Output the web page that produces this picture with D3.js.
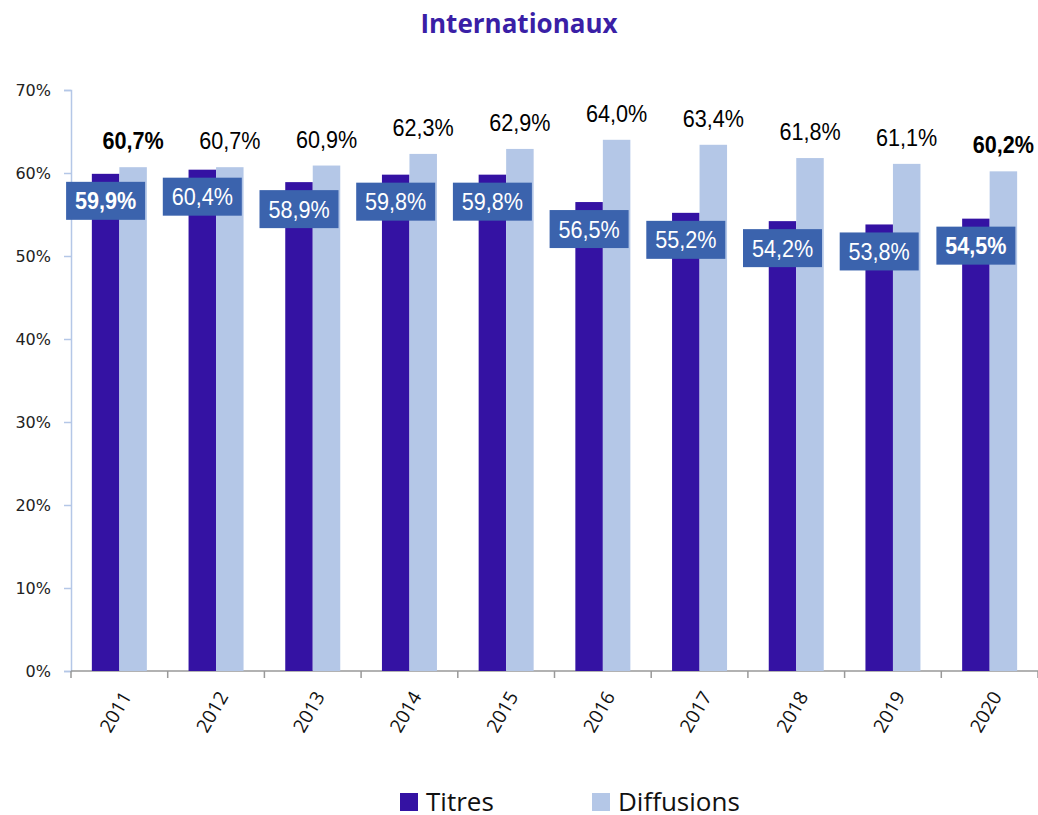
<!DOCTYPE html>
<html>
<head>
<meta charset="utf-8">
<script src="https://cdn.jsdelivr.net/npm/d3@7"></script>
<style>
  body { margin: 0; background: #fff; }
</style>
</head>
<body>
<script>
// data
const years = ['2011', '2012', '2013', '2014', '2015', '2016', '2017', '2018', '2019', '2020'];
const titres = [59.9, 60.4, 58.9, 59.8, 59.8, 56.5, 55.2, 54.2, 53.8, 54.5];
const diffusions = [60.7, 60.7, 60.9, 62.3, 62.9, 64.0, 63.4, 61.8, 61.1, 60.2];
const yTicks = [0, 10, 20, 30, 40, 50, 60, 70];
const boldYears = ['2011', '2020'];

const width = 1038, height = 815;
const marginLeft = 71, marginRight = 0, marginTop = 90, marginBottom = 144;
const innerWidth = width - marginLeft - marginRight;
const innerHeight = height - marginTop - marginBottom;

const colTitres = '#3412A3';
const colDiff = '#B4C7E7';
const colBox = '#3B63AD';
const narrow = '"Liberation Sans Narrow", "Arial Narrow", "Liberation Sans", sans-serif';
const squeeze = 0.9; // labels in the reference use a condensed face

const fmt = v => v.toFixed(1).replace('.', ',') + '%';

const svg = d3.select('body')
  .append('svg')
  .attr('width', width)
  .attr('height', height);

// title
svg.append('text')
  .attr('x', 519)
  .attr('y', 33)
  .attr('text-anchor', 'middle')
  .attr('font-family', '"Open Sans", sans-serif')
  .attr('font-weight', 'bold')
  .attr('font-size', 26)
  .attr('fill', '#3A1FA6')
  .text('Internationaux');

const g = svg.append('g')
  .attr('transform', `translate(${marginLeft},${marginTop})`);

const xScale = d3.scaleBand()
  .domain(years)
  .range([0, innerWidth]);

const yScale = d3.scaleLinear()
  .domain([0, 70])
  .range([innerHeight, 0]);

const barW = 27.5;

// y axis
const yAxis = g.append('g')
  .call(d3.axisLeft(yScale).tickValues(yTicks).tickSize(7).tickFormat(d => d + '%'));
yAxis.select('.domain').attr('stroke', '#B4C7E7').attr('stroke-width', 1.5);
yAxis.selectAll('.tick line').attr('stroke', '#B4C7E7').attr('stroke-width', 1.5);
yAxis.selectAll('.tick text')
  .attr('x', -20)
  .attr('font-family', '"DejaVu Sans", sans-serif')
  .attr('font-size', 16)
  .attr('fill', '#222');

// x axis (ticks at band boundaries)
const xAxis = g.append('g')
  .attr('transform', `translate(0,${innerHeight})`);
xAxis.append('line')
  .attr('x1', 0).attr('x2', innerWidth)
  .attr('stroke', '#999').attr('stroke-width', 1.5);
xAxis.selectAll('line.tk')
  .data(years.concat(['end']))
  .join('line')
  .attr('class', 'tk')
  .attr('x1', (d, i) => i * xScale.step())
  .attr('x2', (d, i) => i * xScale.step())
  .attr('y1', 0).attr('y2', 7)
  .attr('stroke', '#999').attr('stroke-width', 1.5);
xAxis.selectAll('text')
  .data(years)
  .join('text')
  .attr('transform', d => `translate(${xScale(d) + xScale.bandwidth() / 2 + 7},${22}) rotate(-60)`)
  .attr('text-anchor', 'end')
  .attr('dy', '0.35em')
  .attr('font-family', '"Open Sans", sans-serif')
  .attr('font-size', 19)
  .attr('fill', '#111')
  .text(d => d);

// bars
const groups = g.selectAll('g.year')
  .data(years)
  .join('g')
  .attr('class', 'year')
  .attr('transform', d => `translate(${xScale(d) + xScale.bandwidth() / 2},0)`);

groups.append('rect')
  .attr('x', -barW)
  .attr('width', barW)
  .attr('y', (d, i) => yScale(titres[i]))
  .attr('height', (d, i) => innerHeight - yScale(titres[i]))
  .attr('fill', colTitres);

groups.append('rect')
  .attr('x', 0)
  .attr('width', barW)
  .attr('y', (d, i) => yScale(diffusions[i]))
  .attr('height', (d, i) => innerHeight - yScale(diffusions[i]))
  .attr('fill', colDiff);

// diffusions labels above bars
groups.append('text')
  .attr('transform', (d, i) => `translate(${barW / 2},${yScale(diffusions[i]) - 18}) scale(${squeeze},1)`)
  .attr('text-anchor', 'middle')
  .attr('font-family', narrow)
  .attr('font-size', 24)
  .attr('font-weight', d => boldYears.includes(d) ? 'bold' : 'normal')
  .attr('fill', '#000')
  .text((d, i) => fmt(diffusions[i]));

// titres labels in boxes
const boxW = 79, boxH = 38;
groups.append('rect')
  .attr('x', -barW / 2 - boxW / 2)
  .attr('y', (d, i) => yScale(titres[i]) + 27 - boxH / 2)
  .attr('width', boxW)
  .attr('height', boxH)
  .attr('fill', colBox);

groups.append('text')
  .attr('transform', (d, i) => `translate(${-barW / 2},${yScale(titres[i]) + 27}) scale(${squeeze},1)`)
  .attr('dy', '0.36em')
  .attr('text-anchor', 'middle')
  .attr('font-family', narrow)
  .attr('font-size', 24)
  .attr('font-weight', d => boldYears.includes(d) ? 'bold' : 'normal')
  .attr('fill', '#fff')
  .text((d, i) => fmt(titres[i]));

// legend
const legend = svg.append('g');
const legendItems = [
  { name: 'Titres', color: colTitres, x: 400 },
  { name: 'Diffusions', color: colDiff, x: 592 }
];
legendItems.forEach(item => {
  legend.append('rect')
    .attr('x', item.x).attr('y', 793)
    .attr('width', 18).attr('height', 18)
    .attr('fill', item.color);
  legend.append('text')
    .attr('x', item.x + 26).attr('y', 811)
    .attr('font-family', '"Open Sans", sans-serif')
    .attr('font-size', 26)
    .attr('fill', '#111')
    .text(item.name);
});
</script>
</body>
</html>
